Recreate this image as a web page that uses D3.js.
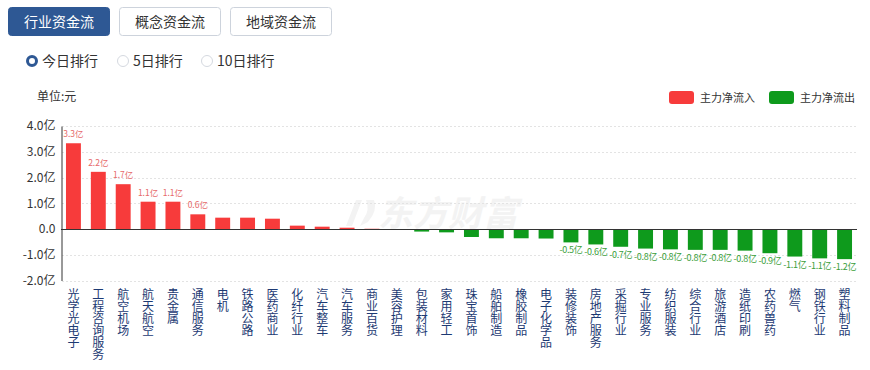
<!DOCTYPE html>
<html>
<head>
<meta charset="utf-8">
<script src="https://cdn.jsdelivr.net/npm/d3@7"></script>
<style>
  body { margin: 0; background: #fff; font-family: "Noto Sans CJK SC", "Noto Sans", sans-serif; }
</style>
</head>
<body>
<div id="chart"></div>
<script>
// industry names, net main-force flow in 亿
let categories = ['光学光电子', '工程咨询服务', '航空机场', '航天航空', '贵金属', '通信服务', '电机', '铁路公路',
  '医药商业', '化纤行业', '汽车整车', '汽车服务', '商业百货', '美容护理', '包装材料', '家用轻工',
  '珠宝首饰', '船舶制造', '橡胶制品', '电子化学品', '装修装饰', '房地产服务', '采掘行业', '专业服务',
  '纺织服装', '综合行业', '旅游酒店', '造纸印刷', '农药兽药', '燃气', '钢铁行业', '塑料制品'];
let values = [3.33, 2.22, 1.74, 1.06, 1.06, 0.57, 0.44, 0.44,
  0.40, 0.13, 0.09, 0.05, 0.01, -0.03, -0.10, -0.13,
  -0.31, -0.36, -0.36, -0.37, -0.52, -0.60, -0.69, -0.76,
  -0.79, -0.81, -0.81, -0.84, -0.94, -1.07, -1.14, -1.17];
let yTicks = [-2, -1, 0, 1, 2, 3, 4];
let tabs = ['行业资金流', '概念资金流', '地域资金流'];
let radios = ['今日排行', '5日排行', '10日排行'];
let legendItems = ['主力净流入', '主力净流出'];

let colors = { up: '#f73b3b', down: '#0e9a1c', upText: '#e66a6a', downText: '#3a9e3a' };

let width = 870, height = 370;
let svg = d3.select('#chart').append('svg')
  .attr('width', width)
  .attr('height', height);

//////////////////////// tabs and radios ////////////////////////
let tabX = [8, 119, 230];
tabs.forEach((t, i) => {
  let g = svg.append('g').attr('transform', 'translate(' + tabX[i] + ',7)');
  g.append('rect')
    .attr('x', 0.5).attr('y', 0.5)
    .attr('width', 101).attr('height', 28)
    .attr('rx', 3)
    .attr('fill', i === 0 ? '#2e5894' : '#fff')
    .attr('stroke', i === 0 ? '#2e5894' : '#cdd3dc');
  g.append('text')
    .attr('x', 51).attr('y', 20)
    .attr('text-anchor', 'middle')
    .attr('font-size', 14)
    .attr('fill', i === 0 ? '#fff' : '#333')
    .text(t);
});

let radioX = [32, 123, 207];
radios.forEach((r, i) => {
  svg.append('circle')
    .attr('cx', radioX[i]).attr('cy', 61)
    .attr('r', i === 0 ? 4.5 : 5.5)
    .attr('fill', '#fff')
    .attr('stroke', i === 0 ? '#2e5894' : '#d5d9e0')
    .attr('stroke-width', i === 0 ? 3 : 1);
  svg.append('text')
    .attr('x', radioX[i] + 10).attr('y', 66)
    .attr('font-size', 14)
    .attr('fill', '#333')
    .text(r);
});

svg.append('text')
  .attr('x', 37).attr('y', 101)
  .attr('font-size', 12)
  .attr('fill', '#333')
  .text('单位:元');

//////////////////////// legend ////////////////////////
let legendX = [669, 769];
legendItems.forEach((l, i) => {
  svg.append('rect')
    .attr('x', legendX[i]).attr('y', 91)
    .attr('width', 25).attr('height', 13)
    .attr('rx', 3)
    .attr('fill', i === 0 ? colors.up : colors.down);
  svg.append('text')
    .attr('x', legendX[i] + 31).attr('y', 102)
    .attr('font-size', 11)
    .attr('fill', '#333')
    .text(l);
});

//////////////////////// scales ////////////////////////
let x = d3.scaleBand()
  .domain(categories)
  .range([61, 857])
  .paddingInner(0.4)
  .paddingOuter(0.2);

let y = d3.scaleLinear()
  .domain([-2, 4])
  .range([280.5, 126]);

// watermark
let wm = svg.append('g').attr('fill', '#f3f3f3');
wm.append('path')
  .attr('d', 'M356,200 L362,200 L352,226 L346,226 Z M366,200 L374,200 Q378,210 368,222 L360,226 L364,218 Q370,210 366,200 Z');
wm.append('text')
  .attr('x', 378).attr('y', 226)
  .attr('font-size', 35)
  .attr('font-weight', 'bold')
  .attr('font-style', 'italic')
  .text('东方财富');

// gridlines
svg.append('g')
  .selectAll('line')
  .data(yTicks.filter(d => d !== 0))
  .enter().append('line')
  .attr('x1', 62).attr('x2', 857)
  .attr('y1', d => Math.round(y(d)) + 0.5)
  .attr('y2', d => Math.round(y(d)) + 0.5)
  .attr('stroke', '#e3e3e3')
  .attr('stroke-dasharray', '2,2');

// y axis
let yAxis = svg.append('g')
  .attr('transform', 'translate(61.5,0)')
  .call(d3.axisLeft(y).tickValues(yTicks).tickSize(0).tickPadding(6)
    .tickFormat(d => d === 0 ? '0.0' : d.toFixed(1) + '亿'));
yAxis.select('.domain').attr('stroke', '#333');
yAxis.selectAll('text')
  .attr('font-size', 12)
  .attr('fill', '#333')
  .attr('font-family', '"Noto Sans CJK SC", sans-serif');

// bars
svg.append('g')
  .selectAll('rect')
  .data(values)
  .enter().append('rect')
  .attr('x', (d, i) => x(categories[i]))
  .attr('width', x.bandwidth())
  .attr('y', d => d >= 0 ? y(d) : y(0))
  .attr('height', d => Math.abs(y(d) - y(0)))
  .attr('fill', d => d >= 0 ? colors.up : colors.down);

// zero line
svg.append('line')
  .attr('x1', 61).attr('x2', 857)
  .attr('y1', Math.round(y(0)) + 0.5).attr('y2', Math.round(y(0)) + 0.5)
  .attr('stroke', '#333');

// value labels
svg.append('g')
  .selectAll('text')
  .data(values.map((v, i) => ({ v: v, c: categories[i] })).filter(d => Math.abs(d.v) >= 0.5))
  .enter().append('text')
  .attr('x', d => x(d.c) + x.bandwidth() / 2)
  .attr('y', d => d.v >= 0 ? y(d.v) - 6 : y(d.v) + 11)
  .attr('text-anchor', 'middle')
  .attr('font-size', d => d.v >= 0 ? 8.5 : 9)
  .attr('letter-spacing', d => d.v >= 0 ? 0 : -0.3)
  .attr('fill', d => d.v >= 0 ? colors.upText : colors.downText)
  .text(d => d.v.toFixed(1) + '亿');

// category labels, vertical
svg.append('g')
  .selectAll('text')
  .data(categories)
  .enter().append('text')
  .attr('x', d => x(d) + x.bandwidth() / 2)
  .attr('y', 288)
  .style('writing-mode', 'vertical-rl')
  .attr('font-size', 12)
  .attr('fill', '#1d3a73')
  .text(d => d);
</script>
</body>
</html>
